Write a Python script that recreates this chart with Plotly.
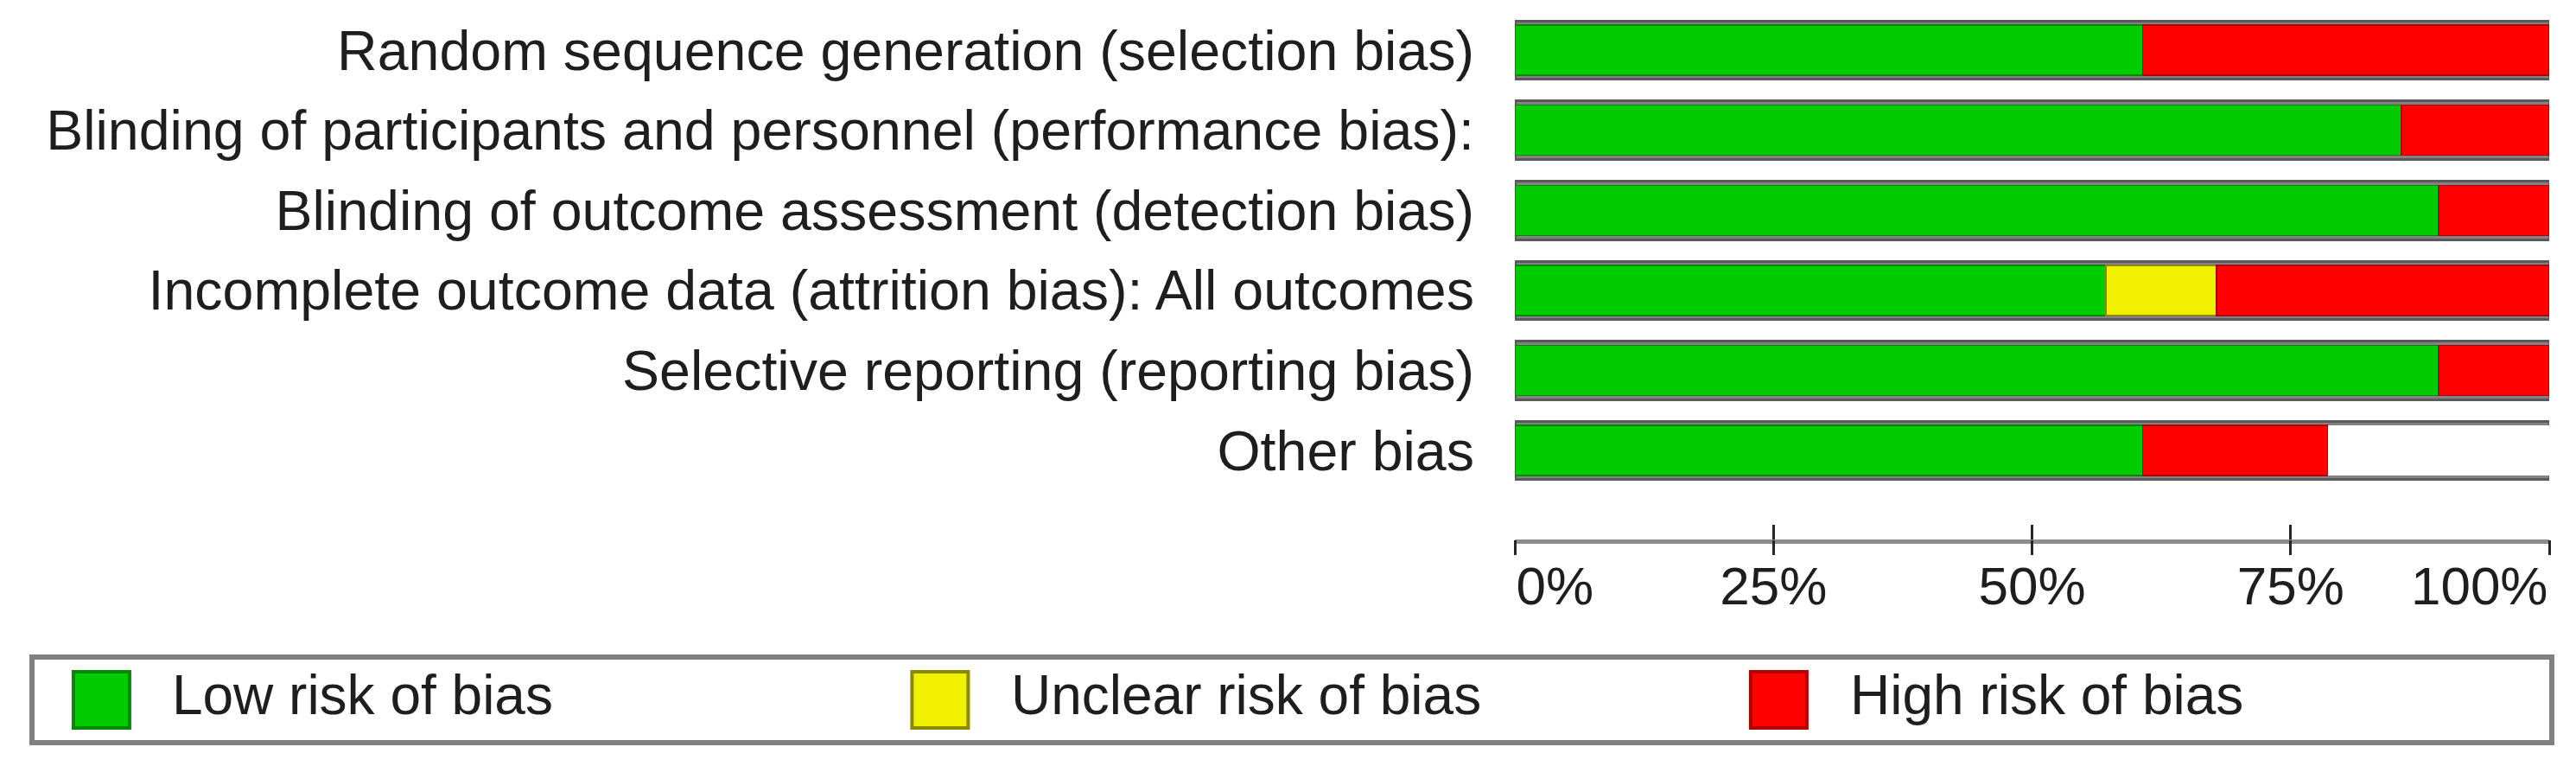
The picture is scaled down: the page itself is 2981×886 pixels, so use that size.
import plotly.graph_objects as go

# ---------------- data ----------------
categories = [
    "Random sequence generation (selection bias)",
    "Blinding of participants and personnel (performance bias):",
    "Blinding of outcome assessment (detection bias)",
    "Incomplete outcome data (attrition bias): All outcomes",
    "Selective reporting (reporting bias)",
    "Other bias",
]
low_risk = [60.71, 85.71, 89.29, 57.14, 89.29, 60.71]
unclear_risk = [0.0, 0.0, 0.0, 10.71, 0.0, 0.0]
high_risk = [39.29, 14.29, 10.71, 32.14, 10.71, 17.86]
full_scale = [100, 100, 100, 100, 100, 100]

tick_vals = [0, 25, 50, 75, 100]
tick_labels = ["0%", "25%", "50%", "75%", "100%"]
legend_labels = ["Low risk of bias", "Unclear risk of bias", "High risk of bias"]

# ---------------- style ----------------
W, H = 2981, 886
FONT = "Liberation Sans, Arial, sans-serif"
FS = 64.5
FS_TICK = 62
TXT = "#1e1e1e"
fills = ["#00CC00", "#F0F000", "#FF0000"]
edges = ["#008a00", "#8a8a00", "#b00000"]
FRAME = "#867f86"
TICKC = "#262626"

x_dom = [1753 / W, 2950 / W]
y_dom = [1 - 624 / H, 1 - 11.7 / H]
y_rng = [6.11, -0.5]

fig = go.Figure()

# gray frame behind each bar
fig.add_trace(go.Bar(
    y=categories, x=full_scale, orientation="h", width=0.73,
    marker=dict(color=FRAME, line=dict(color="#5a5a5a", width=3)),
    xaxis="x", yaxis="y", showlegend=False, hoverinfo="skip",
))
# white interior
fig.add_trace(go.Bar(
    y=categories, x=full_scale, orientation="h", width=0.626,
    marker=dict(color="#FFFFFF", line=dict(width=0)),
    xaxis="x", yaxis="y2", showlegend=False, hoverinfo="skip",
))
# stacked risk segments
for vals, name, fc, ec in zip([low_risk, unclear_risk, high_risk], legend_labels, fills, edges):
    fig.add_trace(go.Bar(
        y=categories, x=vals, orientation="h", width=0.626, name=name,
        marker=dict(color=fc, line=dict(color=ec, width=1.5)),
        xaxis="x", yaxis="y3", showlegend=False,
    ))

# empty traces so that the extra tick axes are drawn
fig.add_trace(go.Scatter(x=[], y=[], xaxis="x2", yaxis="y", showlegend=False, hoverinfo="skip"))
fig.add_trace(go.Scatter(x=[], y=[], xaxis="x3", yaxis="y", showlegend=False, hoverinfo="skip"))

# custom legend (swatches + labels)
sw_x = [0.0266, 0.3601, 0.6936]
tx_x = [0.0546, 0.3883, 0.7220]
fig.add_trace(go.Scatter(
    x=sw_x, y=[0.5, 0.5, 0.5], mode="markers", xaxis="x4", yaxis="y4",
    marker=dict(symbol="square", size=65, color=fills, line=dict(color=edges, width=4)),
    showlegend=False, hoverinfo="skip",
))
fig.add_trace(go.Scatter(
    x=tx_x, y=[0.5, 0.5, 0.5], mode="text", text=legend_labels, textposition="middle right",
    textfont=dict(family=FONT, size=64, color=TXT), xaxis="x4", yaxis="y4",
    showlegend=False, hoverinfo="skip",
))

common_y = dict(domain=y_dom, range=y_rng, type="category", categoryorder="array",
                categoryarray=categories, fixedrange=True)
tick_common = dict(tickwidth=3, tickcolor=TICKC, ticklen=17,
                   tickfont=dict(family=FONT, size=FS_TICK, color=TXT))

fig.update_layout(
    width=W, height=H,
    margin=dict(l=0, r=0, t=0, b=0),
    paper_bgcolor="white", plot_bgcolor="rgba(0,0,0,0)",
    barmode="stack",
    font=dict(family=FONT, size=FS, color=TXT),
    showlegend=False,
    hovermode=False,
    xaxis=dict(domain=x_dom, range=[0, 100], anchor="y", showgrid=False, zeroline=False,
               showline=True, linecolor="#8c8c8c", linewidth=5,
               tickmode="array", tickvals=tick_vals,
               ticktext=["", tick_labels[1], tick_labels[2], tick_labels[3], ""],
               ticks="inside", ticklabelstandoff=-4, fixedrange=True, **tick_common),
    xaxis2=dict(overlaying="x", anchor="y", side="bottom", range=[0, 100],
                showgrid=False, zeroline=False, showline=False,
                tickmode="array", tickvals=tick_vals,
                ticktext=[tick_labels[0], "", "", "", ""],
                ticklabelposition="outside right",
                ticks="outside", ticklabelstandoff=0, fixedrange=True, **tick_common),
    xaxis3=dict(overlaying="x", anchor="y", side="bottom", range=[0, 100],
                showgrid=False, zeroline=False, showline=False,
                tickmode="array", tickvals=[tick_vals[-1]], ticktext=[tick_labels[-1]],
                ticklabelposition="outside left",
                ticks="outside", ticklabelstandoff=0, fixedrange=True, **tick_common),
    yaxis=dict(**common_y, anchor="x", showgrid=False, zeroline=False, showline=False,
               ticks="", ticklabelstandoff=46, tickfont=dict(family=FONT, size=FS, color=TXT)),
    yaxis2=dict(**common_y, overlaying="y", anchor="x", visible=False),
    yaxis3=dict(**common_y, overlaying="y", anchor="x", visible=False),
    xaxis4=dict(domain=[40 / W, 2950 / W], range=[0, 1], anchor="y4", showgrid=False,
                zeroline=False, showticklabels=False, ticks="", showline=True, mirror=True,
                linecolor="#808080", linewidth=6, fixedrange=True),
    yaxis4=dict(domain=[1 - 856 / H, 1 - 763 / H], range=[0, 1], anchor="x4", showgrid=False,
                zeroline=False, showticklabels=False, ticks="", showline=True, mirror=True,
                linecolor="#808080", linewidth=6, fixedrange=True),
)

fig.write_html("out.html", config={"displayModeBar": False},
               post_script="document.body.style.margin='0';")
